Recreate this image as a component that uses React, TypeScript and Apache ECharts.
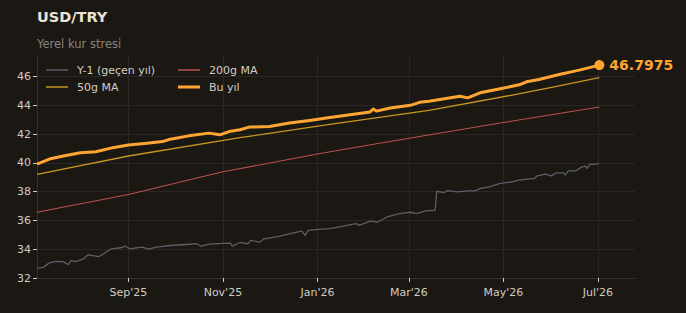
import React, { useEffect, useRef } from 'react';
import * as echarts from 'echarts';

// ---- data ----
const currentDates = [
  '2025-07-04','2025-07-12','2025-07-21','2025-08-01','2025-08-11','2025-08-22','2025-09-01','2025-09-13',
  '2025-09-23','2025-09-28','2025-10-10','2025-10-23','2025-10-30','2025-11-05','2025-11-12','2025-11-18',
  '2025-12-01','2025-12-14','2025-12-27','2026-01-09','2026-01-22','2026-02-04','2026-02-06','2026-02-08',
  '2026-02-17','2026-03-02','2026-03-08','2026-03-14','2026-03-21','2026-04-03','2026-04-08','2026-04-16',
  '2026-04-29','2026-05-12','2026-05-16','2026-05-24','2026-06-06','2026-06-19','2026-07-02'
];
const currentValues = [
  39.92, 40.27, 40.48, 40.71, 40.78, 41.06, 41.25, 41.37,
  41.48, 41.65, 41.88, 42.07, 41.95, 42.18, 42.30, 42.49,
  42.53, 42.77, 42.95, 43.16, 43.35, 43.54, 43.75, 43.60,
  43.82, 44.00, 44.21, 44.28, 44.40, 44.63, 44.52, 44.87,
  45.15, 45.45, 45.64, 45.80, 46.15, 46.45, 46.7975
];

const priorDates = [
  '2025-07-04','2025-07-08','2025-07-12','2025-07-16','2025-07-21','2025-07-24','2025-07-26','2025-07-29',
  '2025-08-03','2025-08-06','2025-08-09','2025-08-13','2025-08-16','2025-08-21','2025-08-28','2025-08-30',
  '2025-09-02','2025-09-06','2025-09-10','2025-09-14','2025-09-19','2025-09-28','2025-10-08','2025-10-15',
  '2025-10-18','2025-10-23','2025-11-01','2025-11-06','2025-11-07','2025-11-12','2025-11-17','2025-11-19',
  '2025-11-25','2025-11-27','2025-12-07','2025-12-18','2025-12-22','2025-12-24','2025-12-26','2026-01-02',
  '2026-01-09','2026-01-17','2026-01-26','2026-01-28','2026-02-04','2026-02-09','2026-02-15','2026-02-23',
  '2026-03-02','2026-03-06','2026-03-12','2026-03-18','2026-03-19','2026-03-24','2026-03-26','2026-04-01',
  '2026-04-09','2026-04-13','2026-04-16','2026-04-22','2026-04-29','2026-05-07','2026-05-11','2026-05-21',
  '2026-05-23','2026-05-28','2026-06-01','2026-06-04','2026-06-09','2026-06-10','2026-06-12','2026-06-17',
  '2026-06-20','2026-06-23','2026-06-24','2026-06-26','2026-06-29','2026-07-02'
];
const priorValues = [
  32.67, 32.74, 33.05, 33.16, 33.14, 32.93, 33.21, 33.14,
  33.33, 33.61, 33.56, 33.49, 33.68, 34.03, 34.12, 34.21,
  34.03, 34.10, 34.14, 34.00, 34.14, 34.26, 34.33, 34.38,
  34.21, 34.35, 34.40, 34.42, 34.21, 34.47, 34.38, 34.61,
  34.49, 34.70, 34.89, 35.17, 35.26, 34.96, 35.31, 35.38,
  35.43, 35.59, 35.78, 35.66, 35.96, 35.89, 36.24, 36.48,
  36.57, 36.48, 36.66, 36.71, 38.03, 37.94, 38.08, 37.99,
  38.06, 38.06, 38.22, 38.34, 38.57, 38.69, 38.80, 38.92,
  39.10, 39.22, 39.10, 39.31, 39.31, 39.15, 39.45, 39.45,
  39.69, 39.78, 39.62, 39.92, 39.90, 39.97
];

const ma50Dates = ['2025-07-04','2025-09-01','2025-11-12','2026-01-09','2026-03-14','2026-05-06','2026-06-06','2026-07-02'];
const ma50Values = [39.20, 40.48, 41.75, 42.68, 43.65, 44.70, 45.35, 45.93];

const ma200Dates = ['2025-07-04','2025-09-01','2025-11-01','2026-01-01','2026-02-10','2026-04-29','2026-07-02'];
const ma200Values = [36.57, 37.80, 39.38, 40.62, 41.37, 42.77, 43.89];

const xTickDates = ['2025-09-01','2025-11-01','2026-01-01','2026-03-01','2026-05-01','2026-07-01'];
const xTickLabels = ["Sep'25", "Nov'25", "Jan'26", "Mar'26", "May'26", "Jul'26"];
const yTickValues = [32, 34, 36, 38, 40, 42, 44, 46];
const lastValueLabel = '46.7975';

const ts = (s: string) => new Date(s + 'T00:00:00Z').getTime();
const pairs = (d: string[], v: number[]) => d.map((s, i) => [ts(s), v[i]]);

const FONT = '"DejaVu Sans", sans-serif';
const BG = '#1b1814';
const GRID = '#2a2723';
const TICK_TXT = '#d2ccc2';
const C_PRIOR = '#5b5e66';
const C_MA50 = '#c6961f';
const C_MA200 = '#b9514b';
const C_CUR = '#ffa531';

const legendBase = (data: string[], left: number, top: number, h: number) => ({
  data: data.map((name) => ({ name, icon: 'rect' })),
  orient: 'vertical', left, top, padding: 0,
  itemWidth: 22, itemHeight: h, itemGap: 3, selectedMode: false,
  textStyle: { color: '#d2ccc2', fontSize: 11, fontFamily: FONT, lineHeight: 14, padding: [0, 0, 0, 4] },
});

export default function App() {
  const ref = useRef<HTMLDivElement>(null);
  useEffect(() => {
    document.body.style.margin = '0';
    document.body.style.background = BG;
    const chart = echarts.init(ref.current!, null, { renderer: 'svg' });
    const tickTs = xTickDates.map(ts);
    const lastIdx = currentDates.length - 1;
    const line = (name: string, data: any[], color: string, width: number, z: number, extra: any = {}) => ({
      name, type: 'line', data, symbol: 'none', showSymbol: false, z,
      lineStyle: { color, width, join: 'round' }, itemStyle: { color },
      emphasis: { disabled: true }, silent: true, ...extra,
    });
    chart.setOption({
      animation: false,
      backgroundColor: BG,
      textStyle: { fontFamily: FONT },
      grid: { left: 37, right: 51, top: 55, bottom: 35, containLabel: false },
      graphic: [
        { type: 'text', x: 37, y: 17, style: { text: 'USD/TRY', fill: '#ebe3d3', font: `bold 14.5px ${FONT}`, verticalAlign: 'middle' } },
        { type: 'text', x: 37, y: 44, style: { text: 'Yerel kur stresi', fill: '#8a847a', font: `11.5px ${FONT}`, verticalAlign: 'middle' } },
      ],
      legend: [
        legendBase(['Y-1 (geçen yıl)', '50g MA'], 46, 63, 1.5),
        legendBase(['200g MA'], 178, 63, 1.5),
        legendBase(['Bu yıl'], 178, 80, 3),
      ],
      xAxis: {
        type: 'value', min: ts('2025-07-04'), max: ts('2026-07-25'),
        axisLine: { show: true, onZero: false, lineStyle: { color: '#34302b', width: 1 } },
        axisTick: { show: true, customValues: tickTs, length: 4, lineStyle: { color: '#cfc9bf' } },
        axisLabel: {
          customValues: tickTs, color: TICK_TXT, fontSize: 11, fontFamily: FONT, margin: 9,
          formatter: (v: number) => {
            let best = 0;
            tickTs.forEach((t, i) => { if (Math.abs(t - v) < Math.abs(tickTs[best] - v)) best = i; });
            return xTickLabels[best];
          },
        },
        splitLine: { show: true, lineStyle: { color: GRID, width: 1 } },
      },
      yAxis: {
        type: 'value', min: 32, max: 47.5, interval: 2,
        axisLine: { show: true, onZero: false, lineStyle: { color: '#34302b', width: 1 } },
        axisTick: { show: true, customValues: yTickValues, length: 4, lineStyle: { color: '#cfc9bf' } },
        axisLabel: { customValues: yTickValues, color: TICK_TXT, fontSize: 11, fontFamily: FONT, margin: 6 },
        splitLine: { show: true, lineStyle: { color: GRID, width: 1 } },
      },
      series: [
        line('Y-1 (geçen yıl)', pairs(priorDates, priorValues), C_PRIOR, 1.3, 2),
        line('50g MA', pairs(ma50Dates, ma50Values), C_MA50, 1.3, 3),
        line('200g MA', pairs(ma200Dates, ma200Values), C_MA200, 1.1, 3),
        line('Bu yıl', pairs(currentDates, currentValues), C_CUR, 3, 5, {
          markPoint: {
            silent: true,
            data: [{
              coord: [ts(currentDates[lastIdx]), currentValues[lastIdx]],
              symbol: 'circle', symbolSize: 10,
              itemStyle: { color: C_CUR },
              label: {
                show: true, position: 'right', distance: 5, formatter: lastValueLabel,
                color: C_CUR, fontSize: 14, fontWeight: 'bold', fontFamily: FONT,
              },
            }],
          },
        }),
      ],
    });
    return () => chart.dispose();
  }, []);
  return <div ref={ref} style={{ position: 'fixed', left: 0, top: 0, width: 686, height: 313, background: BG }} />;
}
